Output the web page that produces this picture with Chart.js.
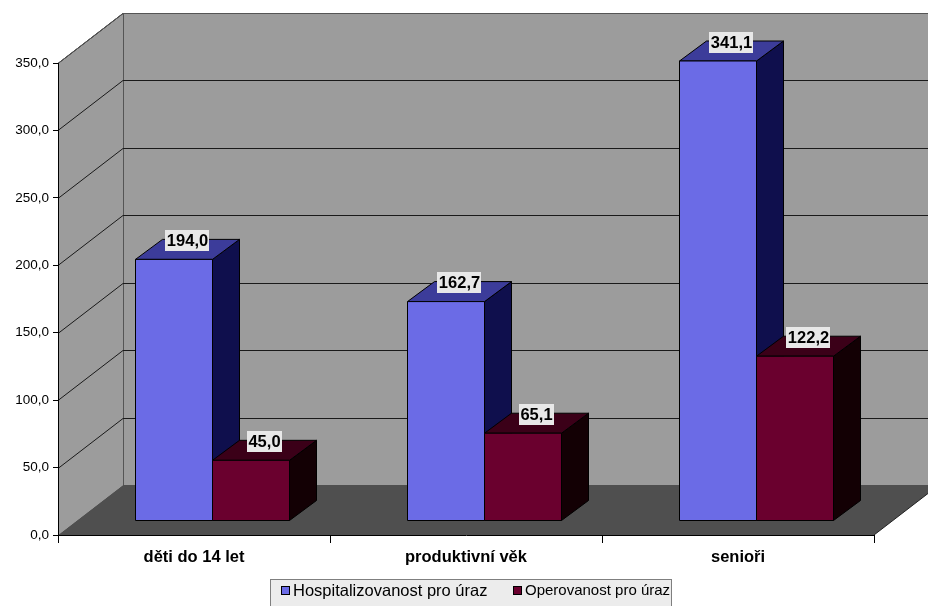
<!DOCTYPE html>
<html lang="cs">
<head>
<meta charset="utf-8">
<title>Hospitalizovanost a operovanost pro úraz</title>
<script src="https://cdn.jsdelivr.net/npm/chart.js@4.4.0/dist/chart.umd.min.js"></script>
<style>
  html, body { margin: 0; padding: 0; background: #ffffff; }
  canvas { display: block; }
</style>
</head>
<body>
<canvas id="graf" width="928" height="606"></canvas>
<script>
// Věkové skupiny a hodnoty (na 10 000 obyvatel)
const kategorie = ['děti do 14 let', 'produktivní věk', 'senioři'];
const hospitalizovanost = [194.0, 162.7, 341.1];
const operovanost = [45.0, 65.1, 122.2];
const nazvyRad = ['Hospitalizovanost pro úraz', 'Operovanost pro úraz'];

// Osa Y
const osaMin = 0;
const osaMax = 350;
const osaKrok = 50;

const PISMO = 'Arial, "Liberation Sans", Helvetica, sans-serif';

// 3D barvy: přední stěna, horní plocha, boční stěna
const barvy = [
    { predni: '#6b6be6', horni: '#3c3c9a', bok: '#0f0f4d' },
    { predni: '#6a002e', horni: '#3b0018', bok: '#130004' }
];

// hloubka stěn grafu a posun sloupců do prostoru
const hloubka = { dx: 65, dy: -50 };
const posunSloupcu = { dx: 18.5, dy: -14 };
const hloubkaSloupce = { dx: 27, dy: -20 };

const formatCisla = (v) => Number(v).toFixed(1).replace('.', ',');

function mnohouhelnik(ctx, body, vypln, obrys) {
    ctx.beginPath();
    ctx.moveTo(body[0][0], body[0][1]);
    for (let i = 1; i < body.length; i++) ctx.lineTo(body[i][0], body[i][1]);
    ctx.closePath();
    if (vypln) { ctx.fillStyle = vypln; ctx.fill(); }
    if (obrys) { ctx.strokeStyle = obrys; ctx.lineWidth = 1; ctx.stroke(); }
}

// Stěny, podlaha a mřížka
const prostor3D = {
    id: 'prostor3D',
    beforeDraw(chart) {
        const { ctx, chartArea: { left, right, top, bottom } } = chart;
        const y = chart.scales.y;
        const { dx, dy } = hloubka;
        ctx.save();
        ctx.fillStyle = '#ffffff';
        ctx.fillRect(0, 0, chart.width, chart.height);

        // zadní stěna
        mnohouhelnik(ctx, [[left + dx, top + dy], [right + dx, top + dy], [right + dx, bottom + dy], [left + dx, bottom + dy]], '#9c9c9c');
        // levá stěna
        mnohouhelnik(ctx, [[left, top], [left + dx, top + dy], [left + dx, bottom + dy], [left, bottom]], '#9c9c9c');
        // podlaha
        mnohouhelnik(ctx, [[left, bottom], [right, bottom], [right + dx, bottom + dy], [left + dx, bottom + dy]], '#4f4f4f');

        // hrana mezi levou a zadní stěnou
        ctx.strokeStyle = '#555555';
        ctx.lineWidth = 1;
        ctx.beginPath();
        ctx.moveTo(Math.round(left + dx) + 0.5, top + dy);
        ctx.lineTo(Math.round(left + dx) + 0.5, bottom + dy);
        ctx.stroke();

        // mřížka
        ctx.strokeStyle = '#1a1a1a';
        for (let v = osaMin + osaKrok; v <= osaMax; v += osaKrok) {
            const py = Math.round(y.getPixelForValue(v)) + 0.5;
            ctx.beginPath();
            ctx.moveTo(left, py);
            ctx.lineTo(left + dx, py + dy);
            ctx.lineTo(right + dx, py + dy);
            ctx.stroke();
        }
        // horní obrys stěn
        ctx.strokeStyle = '#555555';
        ctx.beginPath();
        ctx.moveTo(left, top + 0.5);
        ctx.lineTo(left + dx, top + dy + 0.5);
        ctx.lineTo(right + dx, top + dy + 0.5);
        ctx.stroke();
        // pravá hrana podlahy
        ctx.strokeStyle = '#222222';
        ctx.beginPath();
        ctx.moveTo(right, bottom);
        ctx.lineTo(right + dx, bottom + dy);
        ctx.stroke();
        ctx.restore();
    }
};

// 3D sloupce a popisky hodnot
const sloupce3D = {
    id: 'sloupce3D',
    afterDatasetsDraw(chart) {
        const { ctx } = chart;
        const { dx, dy } = hloubkaSloupce;
        const popisky = [];
        ctx.save();
        ctx.lineJoin = 'miter';
        for (let i = 0; i < kategorie.length; i++) {
            chart.data.datasets.forEach((ds, di) => {
                const el = chart.getDatasetMeta(di).data[i];
                const sirka = el.width;
                const x0 = el.x - sirka / 2 + posunSloupcu.dx;
                const x1 = x0 + sirka;
                const yT = el.y + posunSloupcu.dy;
                const yB = el.base + posunSloupcu.dy;
                const b = barvy[di];
                // boční stěna
                mnohouhelnik(ctx, [[x1, yT], [x1 + dx, yT + dy], [x1 + dx, yB + dy], [x1, yB]], b.bok, '#000');
                // horní plocha
                mnohouhelnik(ctx, [[x0, yT], [x0 + dx, yT + dy], [x1 + dx, yT + dy], [x1, yT]], b.horni, '#000');
                // přední stěna
                mnohouhelnik(ctx, [[x0, yT], [x1, yT], [x1, yB], [x0, yB]], b.predni, '#000');
                popisky.push({ x: (x0 + x1) / 2 + dx / 2, y: yT + dy + 1, text: formatCisla(ds.data[i]) });
            });
        }
        // popisky nad sloupci
        ctx.font = 'bold 16.5px ' + PISMO;
        ctx.textAlign = 'center';
        ctx.textBaseline = 'middle';
        popisky.forEach(p => {
            const w = ctx.measureText(p.text).width + 3;
            ctx.fillStyle = '#e8e8e8';
            ctx.fillRect(Math.round(p.x - w / 2), Math.round(p.y - 10.5), Math.round(w), 21);
            ctx.fillStyle = '#000';
            ctx.fillText(p.text, p.x, p.y + 1);
        });
        ctx.restore();
    },
    afterDraw(chart) {
        // legenda dole
        const { ctx } = chart;
        ctx.save();
        ctx.fillStyle = '#ececec';
        ctx.fillRect(270, 579, 402, 30);
        ctx.strokeStyle = '#7f7f7f';
        ctx.lineWidth = 1;
        ctx.strokeRect(270.5, 579.5, 401, 30);
        const polozky = [
            { x: 281, size: 16.5, text: nazvyRad[0], barva: barvy[0].predni },
            { x: 513, size: 15, text: nazvyRad[1], barva: barvy[1].predni }
        ];
        ctx.textBaseline = 'middle';
        ctx.textAlign = 'left';
        polozky.forEach(p => {
            ctx.fillStyle = p.barva;
            ctx.fillRect(p.x, 586, 9, 9);
            ctx.strokeStyle = '#000';
            ctx.strokeRect(p.x + 0.5, 586.5, 8, 8);
            ctx.fillStyle = '#000';
            ctx.font = p.size + 'px ' + PISMO;
            ctx.fillText(p.text, p.x + 12, 591);
        });
        ctx.restore();
    }
};

new Chart(document.getElementById('graf'), {
    type: 'bar',
    data: {
        labels: kategorie,
        datasets: [
            { label: nazvyRad[0], data: hospitalizovanost, backgroundColor: 'rgba(0,0,0,0)', borderWidth: 0 },
            { label: nazvyRad[1], data: operovanost, backgroundColor: 'rgba(0,0,0,0)', borderWidth: 0 }
        ]
    },
    options: {
        responsive: false,
        animation: false,
        events: [],
        layout: { padding: { top: 63, right: 54, left: 0, bottom: 0 } },
        datasets: { bar: { categoryPercentage: 154 / 272, barPercentage: 1 } },
        plugins: { legend: { display: false }, tooltip: { enabled: false } },
        scales: {
            x: {
                grid: { drawOnChartArea: false, drawTicks: true, tickLength: 8, color: '#000', offset: true },
                border: { display: true, color: '#000', width: 1 },
                ticks: { color: '#000', padding: 5, font: { family: PISMO, size: 16.5, weight: 'bold' } },
                afterFit: (s) => { s.height = 71; }
            },
            y: {
                min: osaMin,
                max: osaMax,
                grid: { drawOnChartArea: false, drawTicks: true, tickLength: 5, color: '#000' },
                border: { display: true, color: '#000', width: 1 },
                ticks: {
                    stepSize: osaKrok,
                    color: '#000',
                    padding: 4,
                    font: { family: PISMO, size: 13.5 },
                    callback: (v) => formatCisla(v)
                },
                afterFit: (s) => { s.width = 58; }
            }
        }
    },
    plugins: [prostor3D, sloupce3D]
});
</script>
</body>
</html>
